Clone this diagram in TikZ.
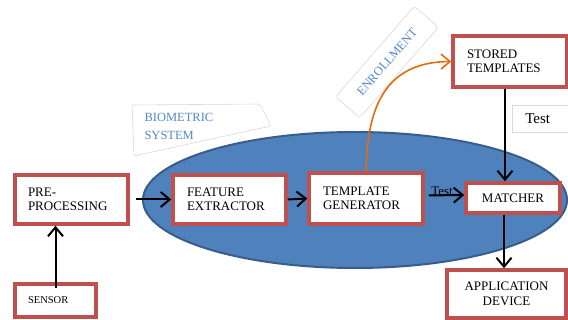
\documentclass[tikz,border=0pt]{standalone}
\usepackage{fontspec}
\setmainfont{Liberation Serif}
\usetikzlibrary{arrows.meta,positioning,shapes.geometric}
\definecolor{boxred}{RGB}{192,80,77}
\definecolor{sysblue}{RGB}{79,129,189}
\definecolor{sysedge}{RGB}{56,93,138}
\definecolor{labblue}{RGB}{84,136,204}
\definecolor{enrol}{RGB}{228,108,10}
\tikzset{
  blk/.style  = {draw=boxred, line width=3.5pt, fill=white, inner sep=0pt, align=left,
                 font=\fontsize{13}{14.5}\selectfont},
  arr/.style  = {-{Straight Barb[length=9pt,width=15pt]}, line width=2pt},
  tag/.style  = {draw=black!15, fill=white, line width=0.6pt},
  lab/.style  = {text=labblue, font=\fontsize{12.5}{18}\selectfont},
}
\begin{document}
\begin{tikzpicture}[x=1pt,y=-1pt]
  \useasboundingbox (0,0) rectangle (568,320);
  % biometric system
  \node[ellipse, fill=sysblue, draw=sysedge, line width=2pt, inner sep=0pt,
        minimum width=424, minimum height=136] (sys) at (355,200) {};
  \draw[tag, rounded corners=2pt] (132,105) -- (260,104) -- (271,126) -- (134,156) -- cycle;
  \node[lab, align=left, anchor=west] (bio) at (141,126) {BIOMETRIC\\SYSTEM};
  \node[tag, lab, rotate=49, rounded corners=3pt, minimum width=120, minimum height=32]
       (enr) at (387,62) {ENROLLMENT};
  % blocks
  \node[blk, minimum width=113, minimum height=49, text width=87] (pre) at (71.5,199.5) {PRE-\\PROCESSING};
  \node[blk, minimum width=81, minimum height=33, text width=55,
        font=\fontsize{10.5}{12}\selectfont] (sensor) at (55.5,300.5) {SENSOR};
  \node[blk, minimum width=113, minimum height=49, text width=85] (feat) at (229.5,199.5) {FEATURE\\EXTRACTOR};
  \node[blk, minimum width=114, minimum height=51, text width=86] (tmpl) at (366,198.5) {TEMPLATE\\GENERATOR};
  \node[blk, minimum width=94, minimum height=30, align=center] (match) at (513,198) {MATCHER};
  \node[blk, minimum width=114, minimum height=51, text width=86] (stored) at (510,61.5) {STORED\\TEMPLATES};
  \node[blk, minimum width=119, minimum height=48, align=center] (app) at (506.5,294) {APPLICATION\\DEVICE};
  % test labels
  \node[font=\fontsize{13}{15}\selectfont] (t1) at (442,191) {Test};
  \node[tag, anchor=west, minimum width=64, minimum height=27, inner xsep=12, align=left,
        text width=38, font=\fontsize{15}{17}\selectfont] (t2) at (512,118.5) {Test};
  % arrows
  \draw[arr] ([yshift=-6pt]sensor.north) -- (sensor.north |- pre.south);
  \draw[arr, shorten <=6pt] (pre.east) -- (feat.west);
  \draw[arr] (feat.east) -- (tmpl.west);
  \draw[arr, shorten <=4pt] ([yshift=3pt]tmpl.east) -- ([yshift=3pt]match.west);
  \draw[arr] ([xshift=-5pt]stored.south) -- ([xshift=-8pt]match.north);
  \draw[arr] ([xshift=-9pt]match.south) -- ([xshift=-9pt]match.south |- app.north);
  \draw[arr, draw=enrol, line width=1.6pt] (tmpl.north) .. controls (367,100) and (390,62) .. (stored.west);
\end{tikzpicture}
\end{document}
